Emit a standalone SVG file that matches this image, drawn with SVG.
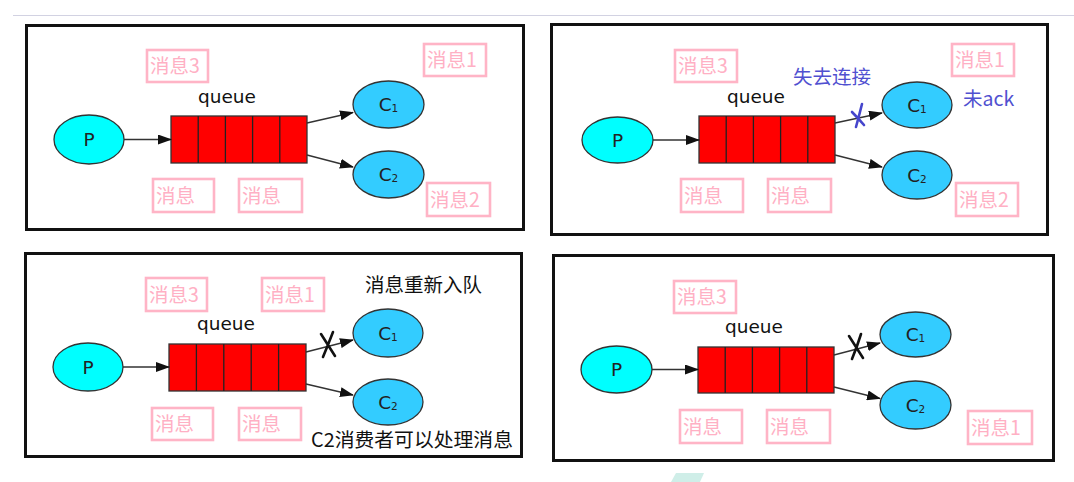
<svg xmlns="http://www.w3.org/2000/svg" width="1074" height="482" viewBox="0 0 1074 482">
<style>
.panel{fill:#fff;stroke:#111;stroke-width:3}
.lbl rect{fill:#fff;stroke:#ffb4c6;stroke-width:2.6}
.lbl text{fill:#ffb0c4;font-family:"Noto Sans CJK SC",sans-serif;font-size:19.5px}
.pnode ellipse{fill:#00ffff;stroke:#333;stroke-width:1.3}
.cnode ellipse{fill:#33ccff;stroke:#333;stroke-width:1.3}
.node text{font-family:"DejaVu Sans",sans-serif;font-size:18.5px;fill:#222;text-anchor:middle}
.q rect{fill:#ff0000;stroke:#333;stroke-width:1.3}
.q line{stroke:#222;stroke-width:1.3}
.qt{font-family:"DejaVu Sans",sans-serif;font-size:18.5px;fill:#111;text-anchor:middle}
.edge{stroke:#333;stroke-width:1.3;fill:none;marker-end:url(#ah)}
.note{font-family:"Noto Sans CJK SC",sans-serif;font-size:19.5px}
.xb{stroke:#4545cc;stroke-width:2.6;stroke-linecap:round;fill:none}
.xk{stroke:#111;stroke-width:2.6;stroke-linecap:round;fill:none}
</style>
<defs>
<marker id="ah" markerWidth="14" markerHeight="10" refX="13" refY="5" orient="auto" markerUnits="userSpaceOnUse">
<path d="M0,0 L14,5 L0,10 z" fill="#111"/>
</marker>
</defs>
<rect width="1074" height="482" fill="#fff"/>
<line x1="13" y1="15.5" x2="1074" y2="15.5" stroke="#d2d2e2" stroke-width="1"/>
<polygon points="676,473 704,473 700,482 671,482" fill="#cfeee8"/>

<!-- Panel 1 -->
<g id="panel1">
<rect class="panel" x="26.5" y="25.5" width="497" height="204"/>
<g id="p1-P" class="node pnode"><ellipse cx="89" cy="139.5" rx="35" ry="24.5"/><text x="89" y="146">P</text></g>
<g id="p1-queue" class="q"><rect x="171" y="116" width="136" height="47"/><line x1="198.2" y1="116" x2="198.2" y2="163"/><line x1="225.4" y1="116" x2="225.4" y2="163"/><line x1="252.6" y1="116" x2="252.6" y2="163"/><line x1="279.8" y1="116" x2="279.8" y2="163"/><text class="qt" x="227" y="103">queue</text></g>
<g id="p1-C1" class="node cnode"><ellipse cx="388.5" cy="104.5" rx="35.5" ry="23.5"/><text x="388.5" y="111">C<tspan font-size="10.5" dy="1">1</tspan></text></g>
<g id="p1-C2" class="node cnode"><ellipse cx="388.5" cy="174.5" rx="35.5" ry="23.5"/><text x="388.5" y="181">C<tspan font-size="10.5" dy="1">2</tspan></text></g>
<g id="p1-m3" class="lbl"><rect x="147" y="50" width="61" height="32"/><text x="150" y="73">消息3</text></g>
<g id="p1-m1" class="lbl"><rect x="424" y="44" width="62" height="32"/><text x="427" y="67">消息1</text></g>
<g id="p1-ma" class="lbl"><rect x="153" y="179" width="61" height="33"/><text x="156" y="202.5">消息</text></g>
<g id="p1-mb" class="lbl"><rect x="239" y="179" width="63" height="33"/><text x="242" y="202.5">消息</text></g>
<g id="p1-m2" class="lbl"><rect x="427" y="183" width="63" height="33"/><text x="430" y="206.5">消息2</text></g>
</g>

<!-- Panel 2 -->
<g id="panel2">
<rect class="panel" x="551.5" y="24.5" width="496" height="210"/>
<g id="p2-P" class="node pnode"><ellipse cx="617.5" cy="140" rx="35.5" ry="23"/><text x="617.5" y="146.5">P</text></g>
<g id="p2-queue" class="q"><rect x="699" y="116" width="136" height="47"/><line x1="726.2" y1="116" x2="726.2" y2="163"/><line x1="753.4" y1="116" x2="753.4" y2="163"/><line x1="780.6" y1="116" x2="780.6" y2="163"/><line x1="807.8" y1="116" x2="807.8" y2="163"/><text class="qt" x="756" y="103">queue</text></g>
<g id="p2-C1" class="node cnode"><ellipse cx="917" cy="105" rx="35" ry="23"/><text x="917" y="111.5">C<tspan font-size="10.5" dy="1">1</tspan></text></g>
<g id="p2-C2" class="node cnode"><ellipse cx="917" cy="175" rx="35" ry="24"/><text x="917" y="181.5">C<tspan font-size="10.5" dy="1">2</tspan></text></g>
<g id="p2-m3" class="lbl"><rect x="675" y="50" width="62" height="32"/><text x="678" y="73">消息3</text></g>
<g id="p2-m1" class="lbl"><rect x="952" y="44" width="62" height="32"/><text x="955" y="67">消息1</text></g>
<g id="p2-ma" class="lbl"><rect x="681" y="179" width="62" height="33"/><text x="684" y="202.5">消息</text></g>
<g id="p2-mb" class="lbl"><rect x="768" y="179" width="63" height="33"/><text x="771" y="202.5">消息</text></g>
<g id="p2-m2" class="lbl"><rect x="956" y="183" width="62" height="33"/><text x="959" y="206.5">消息2</text></g>
<g id="p2-notes"><text class="note" x="793" y="84" fill="#5050d0">失去连接</text><text class="note" x="963" y="106" fill="#5050d0">未ack</text></g>
</g>

<!-- Panel 3 -->
<g id="panel3">
<rect class="panel" x="25.5" y="253.5" width="496" height="203"/>
<g id="p3-P" class="node pnode"><ellipse cx="88" cy="367" rx="35" ry="24"/><text x="88" y="373.5">P</text></g>
<g id="p3-queue" class="q"><rect x="169" y="344" width="137" height="47"/><line x1="196.4" y1="344" x2="196.4" y2="391"/><line x1="223.8" y1="344" x2="223.8" y2="391"/><line x1="251.2" y1="344" x2="251.2" y2="391"/><line x1="278.6" y1="344" x2="278.6" y2="391"/><text class="qt" x="226" y="330">queue</text></g>
<g id="p3-C1" class="node cnode"><ellipse cx="388" cy="333" rx="35" ry="24"/><text x="388" y="339.5">C<tspan font-size="10.5" dy="1">1</tspan></text></g>
<g id="p3-C2" class="node cnode"><ellipse cx="388" cy="402" rx="35" ry="23"/><text x="388" y="408.5">C<tspan font-size="10.5" dy="1">2</tspan></text></g>
<g id="p3-m3" class="lbl"><rect x="146" y="278" width="61" height="33"/><text x="149" y="301.5">消息3</text></g>
<g id="p3-m1" class="lbl"><rect x="262" y="278" width="62" height="33"/><text x="265" y="301.5">消息1</text></g>
<g id="p3-ma" class="lbl"><rect x="152" y="408" width="61" height="32"/><text x="155" y="431">消息</text></g>
<g id="p3-mb" class="lbl"><rect x="239" y="408" width="62" height="32"/><text x="242" y="431">消息</text></g>
<g id="p3-notes"><text class="note" x="365" y="292" fill="#111">消息重新入队</text><text class="note" x="311" y="447" fill="#111" textLength="202" lengthAdjust="spacingAndGlyphs">C2消费者可以处理消息</text></g>
</g>

<!-- Panel 4 -->
<g id="panel4">
<rect class="panel" x="553.5" y="255.5" width="500" height="205"/>
<g id="p4-P" class="node pnode"><ellipse cx="616.5" cy="369.5" rx="35.5" ry="23.5"/><text x="616.5" y="376">P</text></g>
<g id="p4-queue" class="q"><rect x="698" y="347" width="136" height="46"/><line x1="725.2" y1="347" x2="725.2" y2="393"/><line x1="752.4" y1="347" x2="752.4" y2="393"/><line x1="779.6" y1="347" x2="779.6" y2="393"/><line x1="806.8" y1="347" x2="806.8" y2="393"/><text class="qt" x="754" y="333">queue</text></g>
<g id="p4-C1" class="node cnode"><ellipse cx="915.5" cy="334.5" rx="35.5" ry="22.5"/><text x="915.5" y="341">C<tspan font-size="10.5" dy="1">1</tspan></text></g>
<g id="p4-C2" class="node cnode"><ellipse cx="915.5" cy="405" rx="35.5" ry="24"/><text x="915.5" y="411.5">C<tspan font-size="10.5" dy="1">2</tspan></text></g>
<g id="p4-m3" class="lbl"><rect x="674" y="281" width="62" height="32"/><text x="677" y="304">消息3</text></g>
<g id="p4-ma" class="lbl"><rect x="680" y="410" width="62" height="33"/><text x="683" y="433.5">消息</text></g>
<g id="p4-mb" class="lbl"><rect x="767" y="410" width="63" height="33"/><text x="770" y="433.5">消息</text></g>
<g id="p4-m1" class="lbl"><rect x="968" y="411" width="64" height="33"/><text x="971" y="434.5">消息1</text></g>
</g>

<!-- Connectors -->
<g id="connectors">
<path class="edge" d="M124,139.5 L171,139.5"/>
<path class="edge" d="M307,123 L353,112.5"/>
<path class="edge" d="M307,155 L353,167"/>
<path class="edge" d="M653,140 L699,140"/>
<path class="edge" d="M835,123 L882,113"/>
<path class="edge" d="M835,155 L882,167"/>
<path class="edge" d="M123,367 L169,367"/>
<path class="edge" d="M306,352 L353,340"/>
<path class="edge" d="M306,384 L353,395"/>
<path class="edge" d="M652,369.5 L698,369.5"/>
<path class="edge" d="M834,355 L880,343"/>
<path class="edge" d="M834,387 L880,398.5"/>
<path class="xb" d="M862,104 Q859,116 856,127 M852,112 Q858,118 864,125"/>
<path class="xk" d="M333,332 Q328,345 323,357 M321,334 Q328,345 335,356"/>
<path class="xk" d="M861,334 Q857,347 852,359 M849,336 Q856,347 863,358"/>
</g>
</svg>
